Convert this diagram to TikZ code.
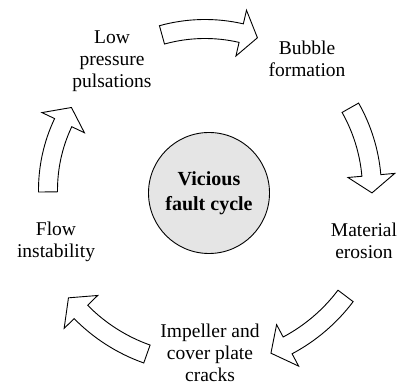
\documentclass[tikz,border=0pt]{standalone}
\usepackage{fontspec}
\setmainfont{Liberation Serif}
\newfontfamily\diagfont{Liberation Serif}
\usetikzlibrary{calc}
\tikzset{
  arrowshape/.style={draw=black, fill=white, line width=0.9pt, line join=miter},
  label/.style={align=center, inner sep=0pt, font=\diagfont\fontsize{19.5}{22}\selectfont},
  hub/.style={circle, draw=black, fill=gray!20, line width=0.9pt, minimum size=121pt, inner sep=0pt, align=center, font=\diagfont\fontsize{20}{25}\selectfont\bfseries}
}
\newcommand\cyclearrow[4]{%
  \draw[arrowshape] ($(C)+({#2}:{#1+9.5})$)
    arc[start angle=#2, end angle=#3, radius={(#1+9.5)*1pt}]
    -- ($(C)+({#3}:{#1+23.5})$)
    -- ($(C)+({#4}:{#1})$)
    -- ($(C)+({#3}:{#1-23.5})$)
    -- ($(C)+({#3}:{#1-9.5})$)
    arc[start angle=#3, end angle=#2, radius={(#1-9.5)*1pt}]
    -- cycle;}
\begin{document}
\begin{tikzpicture}[x=1pt,y=1pt]
\useasboundingbox (0,0) rectangle (399,385);
\coordinate (C) at (205,195);
\node[hub] (hubnode) at (209,192) {Vicious\\fault cycle};
\node[label] (low) at (112,324) {Low\\pressure\\pulsations};
\node[label] (bubble) at (307,326) {Bubble\\formation};
\node[label] (material) at (364,144) {Material\\erosion};
\node[label] (flow) at (56,143) {Flow\\instability};
\node[label] (impeller) at (210,32) {Impeller and\\cover plate\\cracks};
\cyclearrow{161}{105.5}{77}{71}
\cyclearrow{167}{29.5}{5}{-1}
\cyclearrow{176}{-37}{-62}{-68}
\cyclearrow{174}{250.5}{224.5}{218.3}
\cyclearrow{157}{180.7}{154.6}{148.3}
\end{tikzpicture}
\end{document}
